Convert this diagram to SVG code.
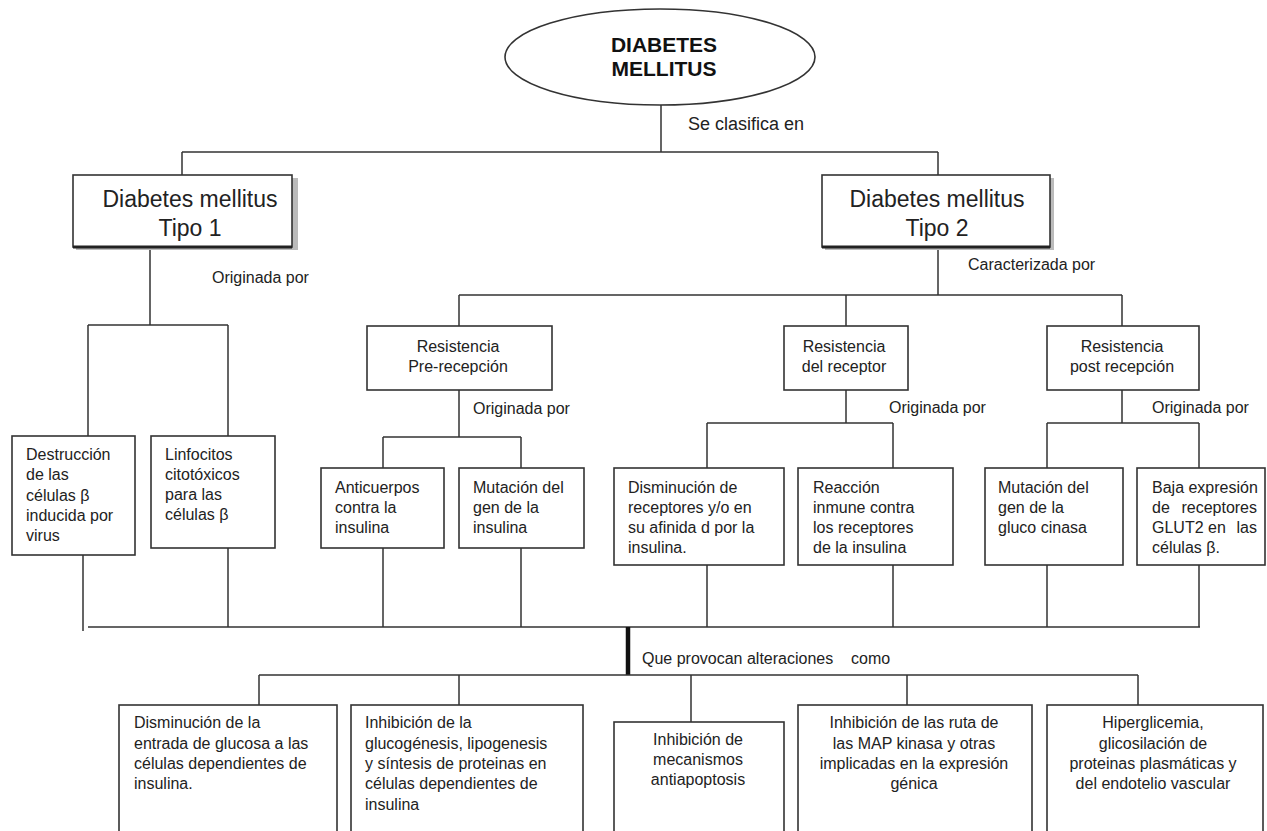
<svg xmlns="http://www.w3.org/2000/svg" width="1267" height="831" viewBox="0 0 1267 831">
<style>
text{font-family:"Liberation Sans",Arial,sans-serif;fill:#222;}
.t{font-size:16px;}
.c{text-anchor:middle;}
.big{font-size:23px;text-anchor:middle;}
.ttl{font-size:21px;font-weight:bold;text-anchor:middle;fill:#111;}
.box{fill:#fff;stroke:#333;stroke-width:1.6;}
.sh{fill:#bbb;}
.ln{stroke:#333;stroke-width:1.5;fill:none;}
</style>
<rect x="0" y="0" width="1267" height="831" fill="#fff"/>

<g id="connectors">
<path class="ln" d="M661 105V152M182 152H938M182 152V175M938 152V175"/>
<path class="ln" d="M150 247V325M88 325H228M88 325V436M228 325V436"/>
<path class="ln" d="M938 247V295M459 295H1122M459 295V326M846 295V326M1122 295V326"/>
<path class="ln" d="M459 390V437M383 437H521M383 437V468M521 437V468"/>
<path class="ln" d="M846 390V423M707 423H893M707 423V468M893 423V468"/>
<path class="ln" d="M1122 390V423M1047 423H1199M1047 423V468M1199 423V468"/>
<path class="ln" d="M83 555V631M228 548V627M383 548V627M521 548V627M707 565V627M893 565V627M1047 565V627M1199 565V627M88 627H1200"/>
<path d="M628 627V675" stroke="#111" stroke-width="4.5"/>
<path class="ln" d="M259 675H1138M259 675V705M459 675V705M691 675V722M907 675V705M1138 675V705"/>
</g>

<g id="n-root">
<ellipse cx="660" cy="57" rx="155" ry="48" fill="#fff" stroke="#333" stroke-width="1.6"/>
<text class="ttl" x="664" y="52">DIABETES</text>
<text class="ttl" x="664" y="76">MELLITUS</text>
</g>
<g id="l-clasifica"><text x="688" y="130" style="font-size:18px">Se clasifica en</text></g>

<g id="n-tipo1">
<rect class="sh" x="76" y="178" width="222" height="72"/>
<rect class="box" x="73" y="175" width="219" height="72"/>
<path d="M73 247H292" stroke="#222" stroke-width="3"/>
<text class="big" x="190" y="207">Diabetes mellitus</text>
<text class="big" x="190" y="236">Tipo 1</text>
</g>
<g id="n-tipo2">
<rect class="sh" x="825" y="178" width="229" height="72"/>
<rect class="box" x="822" y="175" width="228" height="72"/>
<path d="M822 247H1050" stroke="#222" stroke-width="3"/>
<text class="big" x="937" y="207">Diabetes mellitus</text>
<text class="big" x="937" y="236">Tipo 2</text>
</g>

<g id="l-orig1"><text class="t" x="212" y="283">Originada por</text></g>
<g id="l-caract"><text class="t" x="968" y="270">Caracterizada por</text></g>

<g id="n-destruccion">
<rect class="box" x="12" y="436" width="123" height="119"/>
<text class="t" x="26" y="460">Destrucción</text>
<text class="t" x="26" y="480">de las</text>
<text class="t" x="26" y="501">células  β</text>
<text class="t" x="26" y="521">inducida por</text>
<text class="t" x="26" y="541">virus</text>
</g>
<g id="n-linfocitos">
<rect class="box" x="151" y="436" width="124" height="112"/>
<text class="t" x="165" y="460">Linfocitos</text>
<text class="t" x="165" y="480">citotóxicos</text>
<text class="t" x="165" y="500">para las</text>
<text class="t" x="165" y="520">células  β</text>
</g>

<g id="n-pre">
<rect class="box" x="367" y="326" width="185" height="64"/>
<text class="t c" x="458" y="352">Resistencia</text>
<text class="t c" x="458" y="372">Pre-recepción</text>
</g>
<g id="n-receptor">
<rect class="box" x="784" y="326" width="124" height="64"/>
<text class="t c" x="844" y="352">Resistencia</text>
<text class="t c" x="844" y="372">del receptor</text>
</g>
<g id="n-post">
<rect class="box" x="1047" y="326" width="152" height="64"/>
<text class="t c" x="1122" y="352">Resistencia</text>
<text class="t c" x="1122" y="372">post recepción</text>
</g>

<g id="l-orig2"><text class="t" x="473" y="414">Originada por</text></g>
<g id="l-orig3"><text class="t" x="889" y="413">Originada por</text></g>
<g id="l-orig4"><text class="t" x="1152" y="413">Originada por</text></g>

<g id="n-anticuerpos">
<rect class="box" x="321" y="468" width="123" height="80"/>
<text class="t" x="335" y="493">Anticuerpos</text>
<text class="t" x="335" y="513">contra la</text>
<text class="t" x="335" y="533">insulina</text>
</g>
<g id="n-mutacion-insulina">
<rect class="box" x="459" y="468" width="125" height="80"/>
<text class="t" x="473" y="493">Mutación del</text>
<text class="t" x="473" y="513">gen de la</text>
<text class="t" x="473" y="533">insulina</text>
</g>
<g id="n-disminucion-receptores">
<rect class="box" x="614" y="468" width="170" height="97"/>
<text class="t" x="628" y="493">Disminución de</text>
<text class="t" x="628" y="513">receptores y/o en</text>
<text class="t" x="628" y="533">su afinida d por la</text>
<text class="t" x="628" y="553">insulina.</text>
</g>
<g id="n-reaccion">
<rect class="box" x="798" y="468" width="155" height="97"/>
<text class="t" x="813" y="493">Reacción</text>
<text class="t" x="813" y="513">inmune contra</text>
<text class="t" x="813" y="533">los receptores</text>
<text class="t" x="813" y="553">de la insulina</text>
</g>
<g id="n-glucocinasa">
<rect class="box" x="985" y="468" width="138" height="97"/>
<text class="t" x="998" y="493">Mutación del</text>
<text class="t" x="998" y="513">gen de la</text>
<text class="t" x="998" y="533">gluco cinasa</text>
</g>
<g id="n-glut2">
<rect class="box" x="1137" y="468" width="128" height="97"/>
<text class="t" x="1152" y="493">Baja expresión</text>
<text class="t" x="1152" y="513">de</text>
<text class="t" x="1257" y="513" text-anchor="end">receptores</text>
<text class="t" x="1152" y="533">GLUT2 en</text>
<text class="t" x="1257" y="533" text-anchor="end">las</text>
<text class="t" x="1152" y="553">células  β.</text>
</g>

<g id="l-provocan"><text class="t" x="642" y="664">Que provocan alteraciones</text><text class="t" x="851" y="664">como</text></g>

<g id="n-b1">
<rect class="box" x="119" y="705" width="218" height="140"/>
<text class="t" x="134" y="728">Disminución de la</text>
<text class="t" x="134" y="749">entrada de glucosa a las</text>
<text class="t" x="134" y="769">células dependientes de</text>
<text class="t" x="134" y="789">insulina.</text>
</g>
<g id="n-b2">
<rect class="box" x="351" y="705" width="232" height="140"/>
<text class="t" x="365" y="728">Inhibición de la</text>
<text class="t" x="365" y="749">glucogénesis, lipogenesis</text>
<text class="t" x="365" y="769">y síntesis de proteinas  en</text>
<text class="t" x="365" y="789">células dependientes de</text>
<text class="t" x="365" y="810">insulina</text>
</g>
<g id="n-b3">
<rect class="box" x="614" y="722" width="170" height="130"/>
<text class="t c" x="698" y="745">Inhibición de</text>
<text class="t c" x="698" y="765">mecanismos</text>
<text class="t c" x="698" y="785">antiapoptosis</text>
</g>
<g id="n-b4">
<rect class="box" x="798" y="705" width="234" height="140"/>
<text class="t c" x="914" y="728">Inhibición de las ruta de</text>
<text class="t c" x="914" y="749">las MAP kinasa y otras</text>
<text class="t c" x="914" y="769">implicadas en la expresión</text>
<text class="t c" x="914" y="789">génica</text>
</g>
<g id="n-b5">
<rect class="box" x="1047" y="705" width="216" height="140"/>
<text class="t c" x="1153" y="728">Hiperglicemia,</text>
<text class="t c" x="1153" y="749">glicosilación de</text>
<text class="t c" x="1153" y="769">proteinas plasmáticas y</text>
<text class="t c" x="1153" y="789">del endotelio vascular</text>
</g>
</svg>
